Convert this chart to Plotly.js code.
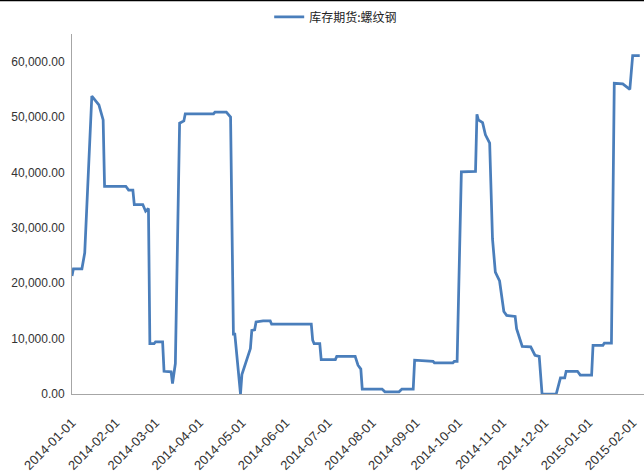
<!DOCTYPE html>
<html>
<head>
<meta charset="utf-8">
<script src="https://cdn.plot.ly/plotly-3.0.1.min.js"></script>
<style>
html,body{margin:0;padding:0;background:#fff;}
#chart{width:644px;height:472px;}
</style>
</head>
<body>
<div id="chart"></div>
<script>
const seriesName = "库存期货:螺纹钢";
const dates = [
"2014-01-01","2014-01-02","2014-01-08","2014-01-10","2014-01-15","2014-01-20","2014-01-23","2014-01-24",
"2014-02-08","2014-02-10","2014-02-13","2014-02-14","2014-02-20","2014-02-22","2014-02-24","2014-02-25",
"2014-02-28","2014-03-01","2014-03-06","2014-03-07","2014-03-12","2014-03-13","2014-03-15","2014-03-18",
"2014-03-21","2014-03-22","2014-04-11","2014-04-12","2014-04-20","2014-04-23","2014-04-25","2014-04-26",
"2014-04-30","2014-05-01","2014-05-07","2014-05-08","2014-05-10","2014-05-11","2014-05-16","2014-05-21",
"2014-05-22","2014-06-19","2014-06-20","2014-06-21","2014-06-25","2014-06-26","2014-07-06","2014-07-07",
"2014-07-20","2014-07-22","2014-07-24","2014-07-25","2014-08-08","2014-08-10","2014-08-20","2014-08-22",
"2014-08-30","2014-08-31","2014-09-13","2014-09-14","2014-09-27","2014-09-28","2014-09-30","2014-10-03",
"2014-10-13","2014-10-14","2014-10-15","2014-10-18","2014-10-20","2014-10-23","2014-10-25","2014-10-27",
"2014-10-30","2014-11-01","2014-11-02","2014-11-04","2014-11-10","2014-11-11","2014-11-15","2014-11-21",
"2014-11-24","2014-11-27","2014-11-29","2014-12-09","2014-12-12","2014-12-15","2014-12-16","2014-12-24",
"2014-12-26","2015-01-03","2015-01-04","2015-01-11","2015-01-12","2015-01-17","2015-01-19","2015-01-25",
"2015-01-28","2015-01-30","2015-02-01","2015-02-06"
];
const values = [
21300,22600,22600,25500,53800,52200,49500,37500,
37500,36800,36800,34200,34200,33000,33500,9100,
9100,9400,9400,4100,4000,1900,5500,48900,
49300,50600,50600,50900,50900,50000,10800,10800,
0,3500,8200,11500,11600,13000,13200,13200,
12600,12600,9700,9100,9100,6200,6200,6800,
6800,5200,4500,900,900,400,400,900,
900,6100,5900,5600,5600,5900,5900,40100,
40200,50500,49500,49000,46800,45300,28000,22000,
20400,17200,14900,14200,14000,11800,8600,8500,
7000,6800,0,0,2900,2900,4100,4100,
3400,3400,8800,8800,9200,9200,56100,56000,
55400,55000,61100,61100
];
const xTickStart = "2014-01-01";
const xRange = ["2014-01-01","2015-02-09"];
const yRange = [0, 65000];

const trace = {
  x: dates, y: values, type: "scatter", mode: "lines", name: seriesName,
  line: {color: "#4a7ebb", width: 2.75}
};
const yFont = {family: "Liberation Sans, Arial, sans-serif", size: 12, color: "#333"};
const xFont = {family: "Liberation Sans, Arial, sans-serif", size: 13, color: "#333"};
const layout = {
  width: 644, height: 472,
  margin: {l: 72, r: 0, t: 34, b: 78, pad: 0},
  paper_bgcolor: "#fff", plot_bgcolor: "#fff",
  showlegend: true,
  legend: {orientation: "h", xref: "container", yref: "container", x: 0.418, xanchor: "left", y: 0.995, yanchor: "top",
    font: {family: "Noto Sans CJK SC, sans-serif", size: 12, color: "#222"}, itemwidth: 30},
  xaxis: {type: "date", range: xRange, tick0: xTickStart, dtick: "M1", tickformat: "%Y-%m-%d",
    tickangle: -45, tickfont: xFont, showgrid: false, zeroline: false, ticklabelstandoff: 15,
    showline: true, linecolor: "#a6a6a6", linewidth: 1, ticks: ""},
  yaxis: {range: yRange, dtick: 10000, tickformat: ",.2f", tickfont: yFont, showgrid: false, zeroline: false,
    showline: true, linecolor: "#a6a6a6", linewidth: 1, ticks: "outside", ticklen: 4, tickcolor: "#fff"},
  shapes: [{type: "line", xref: "paper", yref: "paper", x0: -0.2, x1: 1.1, y0: 1.093, y1: 1.093,
    line: {color: "#000", width: 1.5}}]
};
Plotly.newPlot("chart", [trace], layout, {displayModeBar: false, staticPlot: true});
</script>
</body>
</html>
